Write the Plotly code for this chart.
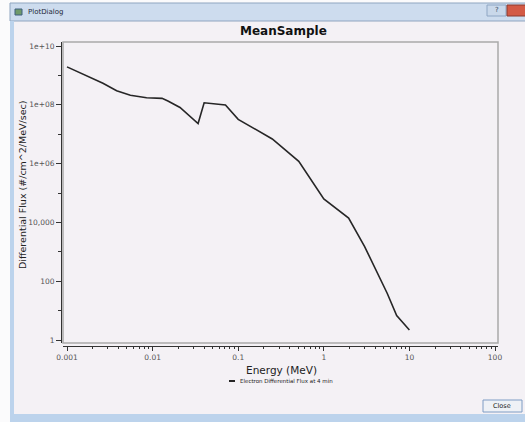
import plotly.graph_objects as go

# ---- data ----
energy_mev = [0.001, 0.00126, 0.002, 0.00263, 0.0038, 0.0055, 0.0085, 0.0129, 0.0151,
              0.0209, 0.034, 0.04, 0.071, 0.1, 0.25, 0.51, 1.0, 1.95, 3.0, 4.6, 5.5, 7.1, 10.0]
diff_flux = [1.95e9, 1.45e9, 7.6e8, 5.4e8, 3.0e8, 2.1e8, 1.74e8, 1.66e8, 1.35e8,
             8.1e7, 2.3e7, 1.17e8, 9.8e7, 3.2e7, 6.9e6, 1.2e6, 6.3e4, 1.4e4, 1.5e3, 110, 39, 6.8, 2.2]
series_name = "Electron Differential Flux at 4 min"
x_tickvals = [0.001, 0.01, 0.1, 1, 10, 100]
x_ticktext = ["0.001", "0.01", "0.1", "1", "10", "100"]
y_tickvals = [1, 100, 1e4, 1e6, 1e8, 1e10]
y_ticktext = ["1", "100", "10,000", "1e+06", "1e+08", "1e+10"]

W, H = 525, 422
L, R, T, B = 61, 27, 42, 76
PW, PH = W - L - R, H - T - B

def px(x):
    return (x - L) / PW

def py(y):
    return (H - B - y) / PH

BG = "#f4f1f5"
FONT = "DejaVu Sans"

fig = go.Figure()
fig.add_trace(go.Scatter(x=energy_mev, y=diff_flux, mode="lines", name=series_name,
                         line=dict(color="#262626", width=1.6), showlegend=False))

x_minor = [m * 10.0 ** k for k in range(-3, 2) for m in range(2, 10)]
y_minor = [10.0 ** k for k in (1, 3, 5, 7, 9)]

fig.update_layout(
    width=W, height=H,
    margin=dict(l=L, r=R, t=T, b=B),
    paper_bgcolor=BG, plot_bgcolor=BG,
    xaxis=dict(type="log", range=[-3.0467, 2.035], domain=[px(63), 1],
               anchor="free", position=0,
               showline=True, linecolor="#333", linewidth=1,
               ticks="outside", ticklen=4, tickcolor="#333",
               tickvals=x_tickvals, ticktext=x_ticktext,
               tickfont=dict(family=FONT, size=7.5, color="#555"),
               minor=dict(ticks="outside", ticklen=2, tickcolor="#333", tickvals=x_minor),
               showgrid=False, zeroline=False),
    yaxis=dict(type="log", range=[-0.102, 10.136], domain=[py(343), 1],
               anchor="free", position=0,
               showline=True, linecolor="#333", linewidth=1,
               ticks="outside", ticklen=5, tickcolor="#333",
               tickvals=y_tickvals, ticktext=y_ticktext,
               tickfont=dict(family=FONT, size=7.5, color="#555"),
               minor=dict(ticks="outside", ticklen=3, tickcolor="#333", tickvals=y_minor),
               showgrid=False, zeroline=False),
    showlegend=False,
)

shapes = []
# plot frame
shapes.append(dict(type="rect", xref="x domain", yref="y domain", x0=0, x1=1, y0=0, y1=1,
                   line=dict(color="#a9a9a9", width=1.5), layer="below"))
# outside-window white strip
shapes.append(dict(type="rect", xref="paper", yref="paper", x0=px(-2), x1=px(10), y0=py(-2), y1=py(424),
                   fillcolor="#fbfbfc", line=dict(width=0)))
# title bar
shapes.append(dict(type="rect", xref="paper", yref="paper", x0=px(10), x1=px(527), y0=py(3), y1=py(-2),
                   fillcolor="#fbfbfc", line=dict(width=0)))
shapes.append(dict(type="rect", xref="paper", yref="paper", x0=px(10), x1=px(527), y0=py(21), y1=py(3),
                   fillcolor="#cddcee", line=dict(color="#8fa5c0", width=1)))
# window icon
shapes.append(dict(type="rect", xref="paper", yref="paper", x0=px(15), x1=px(22), y0=py(15), y1=py(9),
                   fillcolor="#6f9a6a", line=dict(color="#3f5f7f", width=1)))
# left window border
shapes.append(dict(type="rect", xref="paper", yref="paper", x0=px(10), x1=px(14), y0=py(414), y1=py(21),
                   fillcolor="#bcd3ec", line=dict(width=0)))
# bottom window border
shapes.append(dict(type="rect", xref="paper", yref="paper", x0=px(10), x1=px(527), y0=py(424), y1=py(414),
                   fillcolor="#bcd3ec", line=dict(width=0)))
# title bar buttons
shapes.append(dict(type="rect", xref="paper", yref="paper", x0=px(487), x1=px(506), y0=py(16), y1=py(5),
                   fillcolor="#c9d8ea", line=dict(color="#8ea6c4", width=1)))
shapes.append(dict(type="rect", xref="paper", yref="paper", x0=px(507), x1=px(527), y0=py(16), y1=py(5),
                   fillcolor="#d35a45", line=dict(color="#8a3a30", width=1)))
# Close button
shapes.append(dict(type="rect", xref="paper", yref="paper", x0=px(483), x1=px(522), y0=py(412), y1=py(400),
                   fillcolor="#eef1f6", line=dict(color="#7f9cc4", width=1)))
# legend line sample
shapes.append(dict(type="line", xref="paper", yref="paper", x0=px(229), x1=px(235), y0=py(381), y1=py(381),
                   line=dict(color="#262626", width=2)))
fig.update_layout(shapes=shapes)

ann = []
ann.append(dict(text="<b>MeanSample</b>", x=px(283), y=py(31), xref="paper", yref="paper",
                showarrow=False, font=dict(family=FONT, size=12, color="#111"),
                xanchor="center", yanchor="middle"))
ann.append(dict(text="Energy (MeV)", x=px(281), y=py(370), xref="paper", yref="paper",
                showarrow=False, font=dict(family=FONT, size=10.5, color="#222"),
                xanchor="center", yanchor="middle"))
ann.append(dict(text="Differential Flux (#/cm^2/MeV/sec)", x=px(22), y=py(185), xref="paper", yref="paper",
                showarrow=False, textangle=-90, font=dict(family=FONT, size=9.5, color="#222"),
                xanchor="center", yanchor="middle"))
ann.append(dict(text=series_name, x=px(238), y=py(381), xref="paper", yref="paper",
                showarrow=False, font=dict(family=FONT, size=5.5, color="#222"),
                xanchor="left", yanchor="middle"))
ann.append(dict(text="PlotDialog", x=px(26), y=py(12), xref="paper", yref="paper",
                showarrow=False, font=dict(family=FONT, size=7, color="#1e2a3a"),
                xanchor="left", yanchor="middle"))
ann.append(dict(text="?", x=px(496.5), y=py(10.5), xref="paper", yref="paper",
                showarrow=False, font=dict(family=FONT, size=7, color="#34495e"),
                xanchor="center", yanchor="middle"))
ann.append(dict(text="Close", x=px(502), y=py(406), xref="paper", yref="paper",
                showarrow=False, font=dict(family=FONT, size=6.5, color="#222"),
                xanchor="center", yanchor="middle"))
fig.update_layout(annotations=ann)

fig.write_html("out.html", config={"displayModeBar": False},
               post_script="document.body.style.margin='0';document.body.style.overflow='hidden';")
